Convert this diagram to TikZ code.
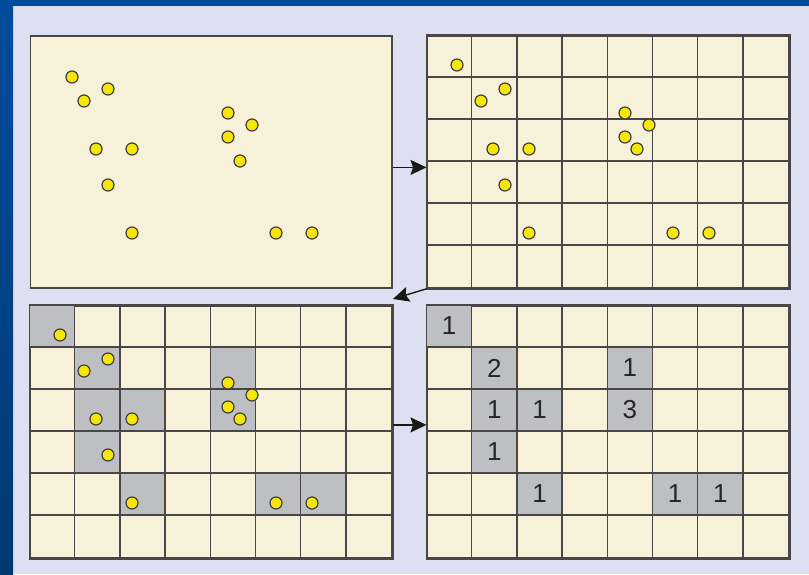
\documentclass[tikz,border=0pt]{standalone}
\usepackage{fontspec}
\setsansfont{Liberation Sans}
\usepackage{tikz}
\usetikzlibrary{arrows.meta}
\definecolor{frameblue}{RGB}{0,76,156}
\definecolor{framedeep}{RGB}{0,56,114}
\definecolor{softlilac}{RGB}{222,224,242}
\definecolor{softcream}{RGB}{247,241,218}
\definecolor{cellgray}{RGB}{190,191,195}
\definecolor{linegray}{RGB}{72,70,70}
\definecolor{dotyellow}{RGB}{245,230,10}

\begin{document}
\begin{tikzpicture}[x=1pt,y=-1pt,
  panel/.style={draw=linegray,line width=1.8pt,fill=softcream,minimum width=361.6pt,minimum height=252pt,inner sep=0pt,anchor=north west},
  gridline/.style={draw=linegray,line width=1.3pt},
  dot/.style={draw=black!75,line width=1.2pt,fill=dotyellow},
  hit/.style={fill=cellgray},
  cnt/.style={font=\sffamily\fontsize{26}{30}\selectfont,text=black!85,inner sep=0pt},
  flow/.style={-{Stealth[length=16pt,width=15pt,inset=2.5pt]},line width=1.4pt,draw=black!90}]
\useasboundingbox (0,0) rectangle (809,574);
% background and frame
\fill[softlilac] (0,0) rectangle (809,574);
\shade[top color=frameblue,bottom color=framedeep] (0,0) rectangle (13,574);
\fill[frameblue] (0,0) rectangle (809,6);

% the four panels
\node[panel] (tl) at (29.5,35) {};
\node[panel] (tr) at (426.5,35) {};
\node[panel] (bl) at (29.5,305) {};
\node[panel] (br) at (426.5,305) {};

% occupied cells
\foreach \p in {bl,br}{
  \begin{scope}[shift={(\p.north west)}]
    \foreach \c/\r in {0/0,1/1,4/1,1/2,2/2,4/2,1/3,2/4,5/4,6/4}
      \fill[hit] (\c*45.2,\r*42) rectangle +(45.2,42);
  \end{scope}
}

% grids
\foreach \p in {tr,bl,br}{
  \begin{scope}[shift={(\p.north west)}]
    \foreach \i in {1,...,7} \draw[gridline] (\i*45.2,0) -- (\i*45.2,252);
    \foreach \j in {1,...,5} \draw[gridline] (0,\j*42) -- (361.6,\j*42);
  \end{scope}
  \draw[draw=linegray,line width=1.8pt] (\p.north west) rectangle (\p.south east);
}

% points
\begin{scope}[shift={(tl.north west)}]
  \foreach \x/\y in {42.5/42,54.5/66,78.5/54,66.5/114,102.5/114,78.5/150,102.5/198,
                     198.5/78,222.5/90,198.5/102,210.5/126,246.5/198,282.5/198}
    \draw[dot] (\x,\y) circle (6);
\end{scope}
\foreach \p in {tr,bl}{
  \begin{scope}[shift={(\p.north west)}]
    \foreach \x/\y in {30.5/30,54.5/66,78.5/54,66.5/114,102.5/114,78.5/150,102.5/198,
                       198.5/78,222.5/90,198.5/102,210.5/114,246.5/198,282.5/198}
      \draw[dot] (\x,\y) circle (6);
  \end{scope}
}

% counts
\begin{scope}[shift={(br.north west)}]
  \foreach \c/\r/\n in {0/0/1,1/1/2,4/1/1,1/2/1,2/2/1,4/2/3,1/3/1,2/4/1,5/4/1,6/4/1}
    \node[cnt] (n-\c-\r) at (\c*45.2+22.6,\r*42+21) {\n};
\end{scope}

% steps
\draw[flow] ([yshift=-5.5pt]tl.east) -- ([yshift=-5.5pt]tr.west);
\draw[flow] (tr.south west) -- ([yshift=6pt]bl.north east);
\draw[flow] ([yshift=7pt]bl.east) -- ([yshift=7pt]br.west);
\end{tikzpicture}
\end{document}
